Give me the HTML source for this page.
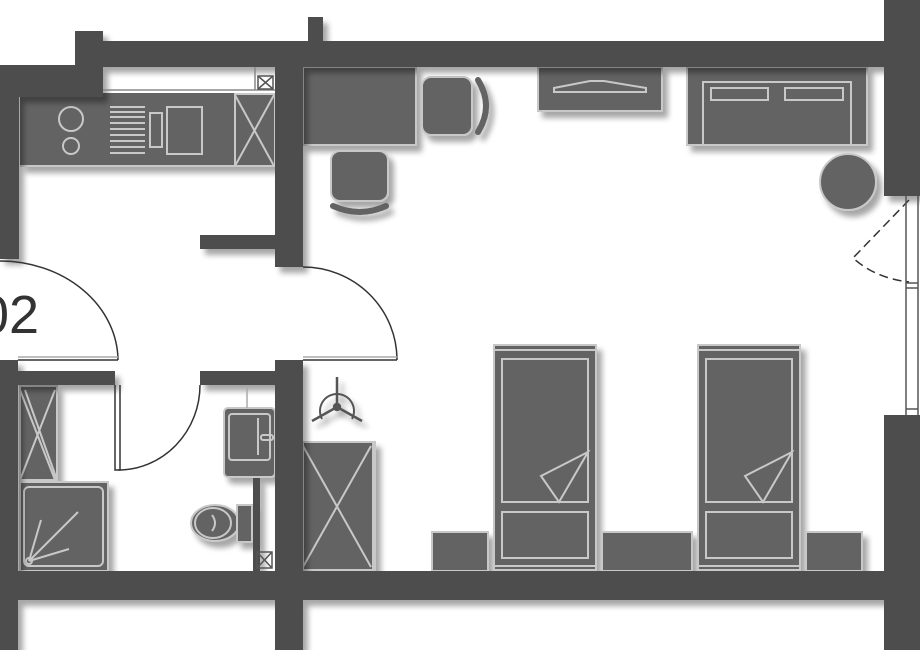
<!DOCTYPE html>
<html><head><meta charset="utf-8"><style>
html,body{margin:0;padding:0;background:#fff;width:920px;height:650px;overflow:hidden}
svg{display:block}
</style></head><body>
<svg width="920" height="650" viewBox="0 0 920 650" xmlns="http://www.w3.org/2000/svg">
<defs>
<filter id="sh" x="-20%" y="-20%" width="150%" height="150%">
<feGaussianBlur in="SourceAlpha" stdDeviation="3"/>
<feOffset dx="5" dy="6" result="b"/>
<feComponentTransfer><feFuncA type="linear" slope="0.35"/></feComponentTransfer>
<feMerge><feMergeNode/><feMergeNode in="SourceGraphic"/></feMerge>
</filter>
</defs>
<rect width="920" height="650" fill="#fff"/>
<text x="-21" y="333" font-family="Liberation Sans, sans-serif" font-size="54" fill="#333">02</text>

<g filter="url(#sh)" fill="#646464" stroke="#c8c8c8" stroke-width="2">
 <rect x="20" y="93" width="255" height="73" stroke="none"/>
 <line x1="20" y1="166" x2="275" y2="166"/>
 <rect x="235" y="94" width="40" height="72"/>
 <rect x="303" y="67" width="113" height="78"/>
 <rect x="422" y="77" width="50" height="58" rx="9"/>
 <rect x="331" y="151" width="57" height="50" rx="9"/>
 <rect x="538" y="67" width="124" height="44"/>
 <rect x="687" y="67" width="180" height="78"/>
 <circle cx="848" cy="182" r="28"/>
 <rect x="20" y="386" width="37" height="94"/>
 <rect x="20" y="482" width="88" height="89"/>
 <rect x="224" y="408" width="51" height="69" rx="4"/>
 <ellipse cx="215" cy="523" rx="24" ry="18"/>
 <rect x="237" y="505" width="15" height="37"/>
 <rect x="303" y="442" width="72" height="128"/>
 <rect x="494" y="345" width="102" height="225"/>
 <rect x="698" y="345" width="102" height="225"/>
 <rect x="432" y="532" width="56" height="39"/>
 <rect x="602" y="532" width="90" height="39"/>
 <rect x="806" y="532" width="56" height="39"/>
</g>
<g filter="url(#sh)" fill="none" stroke="#646464" stroke-width="6" stroke-linecap="round">
 <path d="M478 80 Q494 106 478 132"/>
 <path d="M333 206 Q360 218 386 206"/>
</g>
<g fill="none" stroke="#c8c8c8" stroke-width="2">
 <circle cx="71" cy="119" r="12"/>
 <circle cx="71" cy="146" r="8"/>
 <path d="M110 107h35M110 112h35M110 117h35M110 123h35M110 129h35M110 135h35M110 141h35M110 147h35M110 153h35"/>
 <rect x="150" y="113" width="12" height="34"/>
 <rect x="167" y="107" width="35" height="47"/>
 <path d="M235 95 L274 166 M274 95 L235 166"/>
 <path d="M554 88 L554 92 L646 92 L646 88 L604 81 L590 81 Z"/>
 <rect x="703" y="82" width="148" height="63"/>
 <rect x="711" y="88" width="57" height="12"/>
 <rect x="785" y="88" width="58" height="12"/>
 <path d="M20 390 L55 480 M55 390 L20 480 M25 390 L57 480"/>
 <rect x="24" y="487" width="79" height="79" rx="5"/>
 <circle cx="29" cy="561" r="3"/>
 <path d="M29 561 L78 512 M29 561 L41 520 M29 561 L69 549"/>
 <rect x="229" y="414" width="41" height="46" rx="3"/>
 <line x1="258" y1="418" x2="258" y2="455"/>
 <rect x="261" y="435" width="12" height="5" rx="2"/>
 <ellipse cx="213" cy="523" rx="18" ry="15"/>
 <path d="M212 515 Q218 523 212 531"/>
 <path d="M303 446 L371 567 M371 446 L303 567"/>
 <line x1="373" y1="442" x2="373" y2="570"/>
 <rect x="502" y="359" width="86" height="143"/>
 <rect x="502" y="512" width="86" height="46"/>
 <path d="M588 452 L541 476 L559 502 Z"/>
 <line x1="494" y1="350" x2="596" y2="350"/>
 <line x1="494" y1="566" x2="596" y2="566"/>
 <rect x="706" y="359" width="86" height="143"/>
 <rect x="706" y="512" width="86" height="46"/>
 <path d="M792 452 L745 476 L763 502 Z"/>
 <line x1="698" y1="350" x2="800" y2="350"/>
 <line x1="698" y1="566" x2="800" y2="566"/>
</g>

<g fill="#4d4d4d" filter="url(#sh)">
 <rect x="75" y="41" width="810" height="26"/>
 <rect x="75" y="31" width="28" height="36"/>
 <rect x="308" y="17" width="15" height="25"/>
 <rect x="0" y="65" width="103" height="32"/>
 <rect x="0" y="65" width="19" height="194"/>
 <rect x="884" y="0" width="36" height="196"/>
 <rect x="275" y="65" width="28" height="202"/>
 <rect x="200" y="235" width="75" height="14"/>
 <rect x="275" y="360" width="28" height="290"/>
 <rect x="0" y="360" width="18" height="290"/>
 <rect x="18" y="371" width="97" height="14"/>
 <rect x="200" y="371" width="75" height="14"/>
 <rect x="0" y="571" width="884" height="29"/>
 <rect x="884" y="415" width="36" height="235"/>
 <rect x="253" y="478" width="7" height="93"/>
</g>
<g fill="none" stroke="#333" stroke-width="1.5">
 <path d="M0 261 A118 100 0 0 1 118 360"/>
 <line x1="18" y1="360" x2="118" y2="360"/>
 <line x1="18" y1="357" x2="118" y2="357" stroke="#aaa"/>
 <path d="M303 267 A94 93 0 0 1 397 360"/>
 <line x1="303" y1="360" x2="397" y2="360"/>
 <line x1="303" y1="357" x2="397" y2="357" stroke="#aaa"/>
 <path d="M115 385 L115 470 L120 470 L120 385"/>
 <path d="M118 470 A82 85 0 0 0 200 385"/>
 <path d="M909 200 L853 258 Q875 278 909 282" stroke-dasharray="9,5"/>
 <path d="M906 196 V415 M918 196 V415" stroke="#555"/>
 <path d="M906 283 H918 M906 288 H918 M906 409 H918" stroke="#555"/>
 <line x1="103" y1="90" x2="275" y2="90" stroke="#888"/>
 <line x1="255" y1="67" x2="255" y2="90" stroke="#888"/>
 <rect x="258" y="76" width="15" height="13" stroke="#555"/>
 <path d="M258 76 L273 89 M273 76 L258 89" stroke="#555"/>
 <rect x="257" y="552" width="15" height="16" stroke="#555"/>
 <path d="M257 552 L272 568 M272 552 L257 568" stroke="#555"/>
 <line x1="247" y1="385" x2="247" y2="408" stroke="#aaa"/>
</g>
<g filter="url(#sh)" stroke="#555" fill="none" stroke-width="2.5">
 <path d="M322 419 A17 17 0 1 1 352 419" stroke-width="2"/>
 <path d="M337 407 V377 M337 407 L312 421 M337 407 L362 421"/>
 <circle cx="337" cy="407" r="3" fill="#555"/>
</g>
</svg>
</body></html>
